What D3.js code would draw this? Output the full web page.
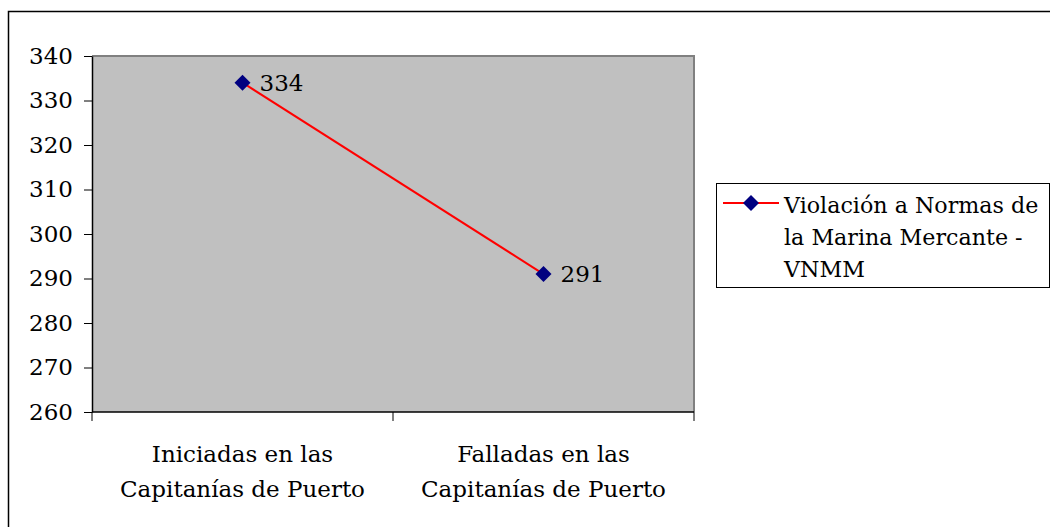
<!DOCTYPE html>
<html>
<head>
<meta charset="utf-8">
<script src="https://cdn.jsdelivr.net/npm/d3@7"></script>
<style>
  body { margin: 0; background: #fff; }
  svg text { font-family: "DejaVu Serif", serif; fill: #000; }
</style>
</head>
<body>
<svg width="1050" height="527"></svg>
<script>
const categories = [
  ["Iniciadas en las", "Capitanías de Puerto"],
  ["Falladas en las", "Capitanías de Puerto"]
];
const values = [334, 291];
const yTicks = [260, 270, 280, 290, 300, 310, 320, 330, 340];
const seriesName = ["Violación a Normas de", "la Marina Mercante -", "VNMM"];

const svg = d3.select("svg");
const plotLeft = 92, plotRight = 694, plotTop = 56, plotBottom = 412;
const fs = 23;

// marco exterior
svg.append("rect")
  .attr("x", 8.5).attr("y", 11.5)
  .attr("width", 1100).attr("height", 600)
  .attr("fill", "none").attr("stroke", "#000").attr("stroke-width", 1.5);

const x = d3.scaleBand().domain(d3.range(categories.length)).range([plotLeft, plotRight]);
const y = d3.scaleLinear().domain([260, 340]).range([plotBottom, plotTop]);

svg.append("rect")
  .attr("x", plotLeft).attr("y", plotTop)
  .attr("width", plotRight - plotLeft).attr("height", plotBottom - plotTop)
  .attr("fill", "#c0c0c0");

svg.append("path")
  .attr("d", `M${plotLeft},${plotTop}H${plotRight}V${plotBottom}`)
  .attr("fill", "none").attr("stroke", "#808080").attr("stroke-width", 2);

const yAxis = svg.append("g")
  .attr("transform", `translate(${plotLeft},0)`)
  .call(d3.axisLeft(y).tickValues(yTicks).tickSize(8).tickPadding(11).tickSizeOuter(0));
yAxis.select(".domain").attr("stroke-width", 1.5);
yAxis.selectAll("text").attr("font-size", fs);

const xAxis = svg.append("g")
  .attr("transform", `translate(0,${plotBottom})`);
xAxis.append("line")
  .attr("x1", plotLeft).attr("x2", plotRight).attr("stroke", "#000").attr("stroke-width", 1.5);
xAxis.selectAll(".tk")
  .data(d3.range(categories.length + 1))
  .join("line")
  .attr("x1", d => d < categories.length ? x(d) : plotRight)
  .attr("x2", d => d < categories.length ? x(d) : plotRight)
  .attr("y1", 0).attr("y2", 9)
  .attr("stroke", "#000");

xAxis.selectAll(".lbl")
  .data(categories)
  .join("text")
  .attr("text-anchor", "middle")
  .attr("font-size", fs)
  .each(function (d, i) {
    d3.select(this).selectAll("tspan")
      .data(d)
      .join("tspan")
      .attr("x", x(i) + x.bandwidth() / 2)
      .attr("y", (t, j) => 50 + j * 35)
      .text(t => t);
  });

const cx = i => x(i) + x.bandwidth() / 2;

svg.append("path")
  .datum(values)
  .attr("d", d3.line().x((d, i) => cx(i)).y(d => y(d)))
  .attr("fill", "none").attr("stroke", "#ff0000").attr("stroke-width", 2);

const diamond = d3.symbol().type(d3.symbolSquare).size(128);

svg.selectAll(".pt")
  .data(values)
  .join("path")
  .attr("d", diamond)
  .attr("transform", (d, i) => `translate(${cx(i)},${y(d)}) rotate(45)`)
  .attr("fill", "#000080");

svg.selectAll(".val")
  .data(values)
  .join("text")
  .attr("x", (d, i) => cx(i) + 17)
  .attr("y", d => y(d) + 8)
  .attr("font-size", fs)
  .text(d => d);

// leyenda
const legend = svg.append("g");
legend.append("rect")
  .attr("x", 716.5).attr("y", 183.5)
  .attr("width", 333).attr("height", 104)
  .attr("fill", "#fff").attr("stroke", "#000");
legend.append("line")
  .attr("x1", 723).attr("x2", 779).attr("y1", 203).attr("y2", 203)
  .attr("stroke", "#ff0000").attr("stroke-width", 2);
legend.append("path")
  .attr("d", diamond)
  .attr("transform", "translate(751,203) rotate(45)")
  .attr("fill", "#000080");
legend.append("text")
  .attr("font-size", 22.2)
  .selectAll("tspan")
  .data(seriesName)
  .join("tspan")
  .attr("x", 784)
  .attr("y", (d, i) => 213 + i * 32)
  .text(d => d);
</script>
</body>
</html>
